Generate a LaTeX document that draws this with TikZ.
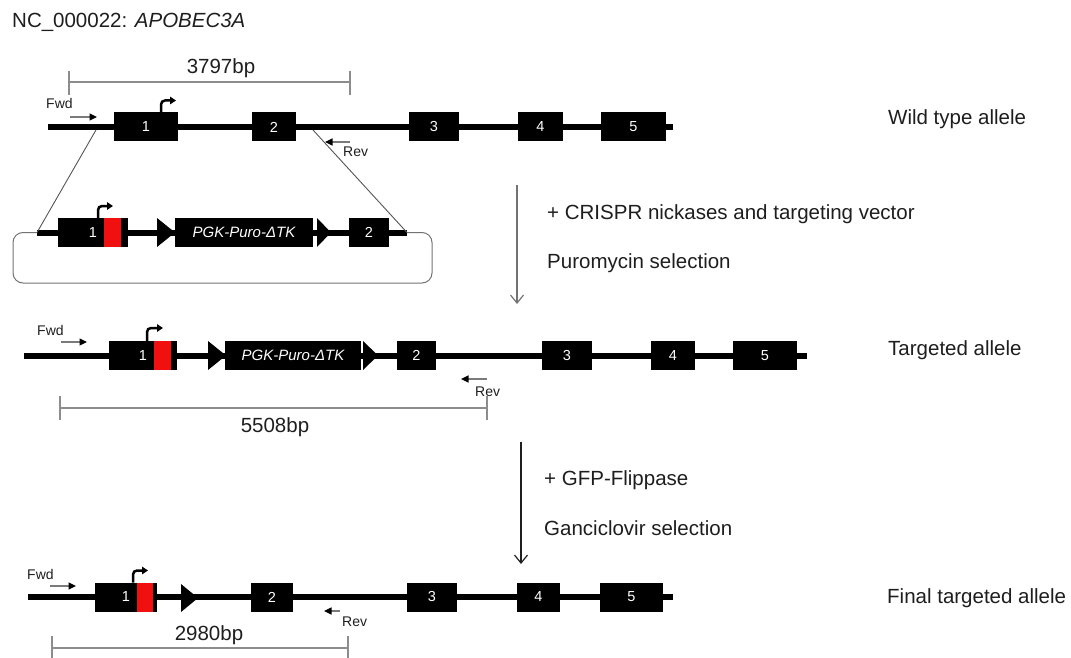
\documentclass[tikz,border=0pt]{standalone}
\usepackage{fontspec}
\setmainfont{Liberation Sans}
\usetikzlibrary{arrows.meta}
\definecolor{txt}{HTML}{1E1E1E}
\definecolor{barcol}{HTML}{8C8C8C}
\definecolor{primcol}{HTML}{7A7A7A}
\definecolor{projcol}{HTML}{555555}
\definecolor{exred}{HTML}{F01010}
\begin{document}
\begin{tikzpicture}[x=1pt,y=-1pt,
  dna/.style={line width=6pt, black},
  exon/.style={fill=black, inner sep=0pt, minimum height=29pt, text=white, font=\fontsize{14.5}{16}\selectfont},
  cassette/.style={fill=black, inner sep=0pt, minimum height=29pt, text=white, font=\fontsize{15}{17}\selectfont\itshape},
  big/.style={font=\fontsize{20.5}{24}\selectfont, text=txt, inner sep=0pt},
  primer/.style={font=\fontsize{14}{15}\selectfont, text=txt, inner sep=0pt},
  primarrow/.style={draw=primcol, line width=1.3pt, -{Triangle[length=7.5pt,width=7pt,color=black]}},
  promo/.style={line width=2.5pt, rounded corners=4pt, -{Triangle[length=6pt,width=7.5pt]}},
  bar/.style={draw=barcol, line width=1.5pt},
  stepline/.style={draw=txt, line width=1.2pt, -{Straight Barb[length=8pt,width=13pt,line width=1.2pt]}},
  proj/.style={draw=projcol, line width=0.9pt},
  frt/.style={fill=black}
]
\useasboundingbox (0,0) rectangle (1071,658);

% title
\node[big, anchor=base west] (title) at (12,28) {NC\_000022: \textit{APOBEC3A}};

% ---------------- Row 1: wild type ----------------
\coordinate (r1s) at (48,127);
\coordinate (r1e) at (673,127);
\draw[dna] (r1s) -- (r1e);
\node[exon, minimum width=64pt] (w1) at (146,127) {1};
\node[exon, minimum width=44pt] (w2) at (274,127) {2};
\node[exon, minimum width=50pt] (w3) at (434,127) {3};
\node[exon, minimum width=45pt] (w4) at (540.5,127) {4};
\node[exon, minimum width=65pt] (w5) at (633.5,127) {5};
\coordinate (w1p) at (161,112.5);
\draw[promo] (w1p) -- ++(0,-12) -- ++(15,0);
% primers
\node[primer, anchor=base west] (fwd1) at (46,109) {Fwd};
\coordinate (f1a) at (70,117); \coordinate (f1b) at (97,117);
\draw[primarrow] (f1a) -- (f1b);
\coordinate (rv1a) at (350,142); \coordinate (rv1b) at (325,142);
\draw[primarrow] (rv1a) -- (rv1b);
\node[primer, anchor=base west] (rev1) at (343,157) {Rev};
% scale bar
\coordinate (b1a) at (69,82); \coordinate (b1b) at (350,82);
\draw[bar] (b1a) -- (b1b);
\draw[bar] (69,71) -- (69,95);
\draw[bar] (350,71) -- (350,95);
\node[big, anchor=base] (bp1) at (221,74) {3797bp};
\node[big, anchor=base west] (lab1) at (888,125) {Wild type allele};

% ---------------- Targeting vector ----------------
\draw[draw=black!55, line width=1pt, rounded corners=10pt] (13,232.5) rectangle (432,283);
\coordinate (vs) at (37,232.5);
\coordinate (ve) at (407,232.5);
\draw[dna] (vs) -- (ve);
\node[exon, minimum width=70pt] (v1) at (93,232.5) {1};
\fill[exred] (104,218) rectangle (121,247);
\fill[frt] (157,218) -- (175,232.5) -- (157,247) -- cycle;
\node[cassette, minimum width=138pt] (vpgk) at (244,232.5) {PGK-Puro-ΔTK};
\fill[frt] (317,218) -- (331,232.5) -- (317,247) -- cycle;
\node[exon, minimum width=40pt] (v2) at (369,232.5) {2};
\coordinate (v1p) at (98,218);
\draw[promo] (v1p) -- ++(0,-12) -- ++(15,0);
% projection lines
\coordinate (pl) at (96,130);
\coordinate (pr) at (313,130);
\draw[proj] (pl) -- (vs);
\draw[proj] (pr) -- (ve);

% step 1
\coordinate (s1a) at (517,185); \coordinate (s1b) at (517,304);
\draw[stepline, draw=black!55] (s1a) -- (s1b);
\node[big, anchor=base west] (st1a) at (547,219) {+ CRISPR nickases and targeting vector};
\node[big, anchor=base west] (st1b) at (547,268) {Puromycin selection};

% ---------------- Row 2: targeted ----------------
\coordinate (r2s) at (24,355.5);
\coordinate (r2e) at (807,355.5);
\draw[dna] (r2s) -- (r2e);
\node[exon, minimum width=68pt] (t1) at (143,355.5) {1};
\fill[exred] (154,341) rectangle (171,370);
\fill[frt] (208,341) -- (226,355.5) -- (208,370) -- cycle;
\node[cassette, minimum width=136pt] (tpgk) at (293,355.5) {PGK-Puro-ΔTK};
\fill[frt] (363,341) -- (378,355.5) -- (363,370) -- cycle;
\node[exon, minimum width=39pt] (t2) at (416.5,355.5) {2};
\node[exon, minimum width=50pt] (t3) at (567,355.5) {3};
\node[exon, minimum width=44pt] (t4) at (673,355.5) {4};
\node[exon, minimum width=64pt] (t5) at (765,355.5) {5};
\coordinate (t1p) at (147,341);
\draw[promo] (t1p) -- ++(0,-13) -- ++(16,0);
\node[primer, anchor=base west] (fwd2) at (37,335) {Fwd};
\coordinate (f2a) at (61,342); \coordinate (f2b) at (87,342);
\draw[primarrow] (f2a) -- (f2b);
\coordinate (rv2a) at (487,379); \coordinate (rv2b) at (461,379);
\draw[primarrow] (rv2a) -- (rv2b);
\node[primer, anchor=base west] (rev2) at (475,396) {Rev};
\coordinate (b2a) at (60,408); \coordinate (b2b) at (487,408);
\draw[bar] (b2a) -- (b2b);
\draw[bar] (60,396) -- (60,420);
\draw[bar] (487,396) -- (487,420);
\node[big, anchor=base] (bp2) at (275,432) {5508bp};
\node[big, anchor=base west] (lab2) at (888,355) {Targeted allele};

% step 2
\coordinate (s2a) at (521,442); \coordinate (s2b) at (521,564);
\draw[stepline] (s2a) -- (s2b);
\node[big, anchor=base west] (st2a) at (544,485) {+ GFP-Flippase};
\node[big, anchor=base west] (st2b) at (544,535) {Ganciclovir selection};

% ---------------- Row 3: final ----------------
\coordinate (r3s) at (28,597);
\coordinate (r3e) at (673,597);
\draw[dna] (r3s) -- (r3e);
\node[exon, minimum width=62pt] (f1) at (126,597) {1};
\fill[exred] (137,582.5) rectangle (153,611.5);
\fill[frt] (181,584) -- (198,598) -- (181,612) -- cycle;
\node[exon, minimum width=42pt] (f2) at (272,597) {2};
\node[exon, minimum width=50pt] (f3) at (432,597) {3};
\node[exon, minimum width=43pt] (f4) at (538.5,597) {4};
\node[exon, minimum width=63pt] (f5) at (631.5,597) {5};
\coordinate (f1p) at (133,582.5);
\draw[promo] (f1p) -- ++(0,-12) -- ++(15,0);
\node[primer, anchor=base west] (fwd3) at (27,579) {Fwd};
\coordinate (f3a) at (50,586); \coordinate (f3b) at (76,586);
\draw[primarrow] (f3a) -- (f3b);
\coordinate (rv3a) at (340,611); \coordinate (rv3b) at (324,611);
\draw[primarrow] (rv3a) -- (rv3b);
\node[primer, anchor=base west] (rev3) at (342,626) {Rev};
\coordinate (b3a) at (52,648); \coordinate (b3b) at (348,648);
\draw[bar] (b3a) -- (b3b);
\draw[bar] (52,636) -- (52,660);
\draw[bar] (348,636) -- (348,660);
\node[big, anchor=base] (bp3) at (209,640) {2980bp};
\node[big, anchor=base west] (lab3) at (887,603) {Final targeted allele};
\end{tikzpicture}
\end{document}
